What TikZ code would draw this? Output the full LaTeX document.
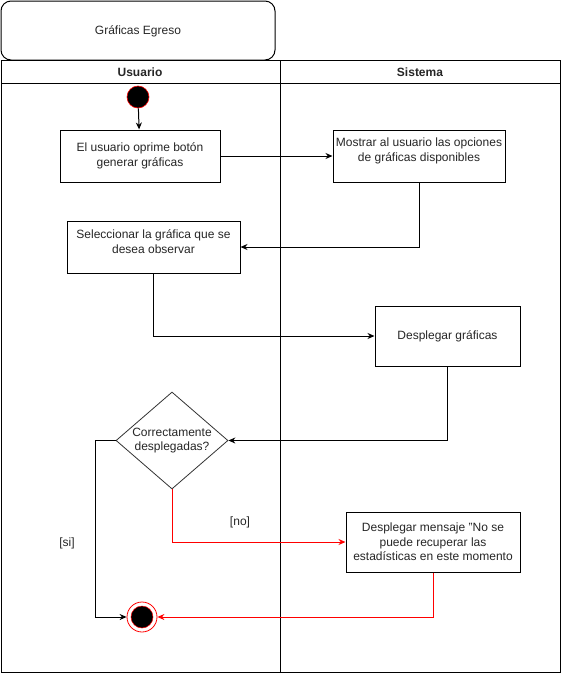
\documentclass[tikz,border=0pt]{standalone}
\usepackage{fontspec}
\setmainfont{Liberation Sans}
\usetikzlibrary{arrows.meta,shapes.geometric}
\begin{document}
\begin{tikzpicture}[x=1pt,y=-1pt,
  every node/.style={font=\fontsize{12}{14.5}\selectfont, text=black!85},
  box/.style={draw=black, line width=1pt, fill=white, minimum width=#1, inner sep=0pt},
  flow/.style={line width=1pt, -{Stealth[length=7pt,width=6pt]}},
  noflow/.style={flow, draw=red, -{Stealth[length=7pt,width=6pt,red]}},
  hdr/.style={font=\fontsize{12}{14}\selectfont\bfseries},
  guard/.style={font=\fontsize{12}{14}\selectfont}
]
\useasboundingbox (0,0) rectangle (561,673);

% title tab
\draw[line width=1pt, rounded corners=10pt] (1,1) rectangle (275,60);
\node (title) at (138,31) {Gráficas Egreso};

% pool with two lanes
\draw[line width=1pt] (1,60) rectangle (560,672);
\draw[line width=1pt] (1,83) -- (560,83);
\draw[line width=1pt] (280,60) -- (280,672);
\node[hdr] (laneU) at (140,72) {Usuario};
\node[hdr] (laneS) at (420,72) {Sistema};

% start
\node[circle, fill=black, draw=red, line width=0.6pt, minimum size=22pt, inner sep=0pt] (start) at (138,97) {};

% activities
\node[box=160, minimum height=52, align=center] (b1) at (140,156)
  {El usuario oprime botón\\generar gráficas};
\node[box=172, minimum height=52,
  label={[anchor=north, align=center, yshift=-5pt]north:Mostrar al usuario las opciones\\de gráficas disponibles}] (b2) at (419,156) {};
\node[box=173, minimum height=52,
  label={[anchor=north, align=center, yshift=-6pt]north:Seleccionar la gráfica que se\\desea observar}] (b3) at (153.5,247) {};
\node[box=145, minimum height=60] (b4) at (447.5,336) {Desplegar gráficas};
\node[diamond, draw=black!80, line width=0.8pt, fill=white, minimum width=112, minimum height=97, inner sep=0pt,
  label={[align=center]center:Correctamente\\desplegadas?}] (dec) at (172,440.5) {};
\node[box=174, minimum height=60, align=center] (b5) at (433,542)
  {Desplegar mensaje "No se\\puede recuperar las\\estadísticas en este momento};

% end
\node[circle, draw=red, fill=white, line width=0.8pt, minimum size=30pt, inner sep=0pt] (end) at (142,617) {};
\fill[black] (end) circle (11pt);
\draw[red, line width=0.5pt] (end) circle (11pt);

% flows
\draw[flow] (start) -- (b1);
\draw[flow] (b1) -- (b2);
\draw[flow] (b2.south) |- (b3.east);
\draw[flow] (b3.south) |- (b4.west);
\draw[flow] (b4.south) |- (dec.east);
\coordinate (siBend) at (95,440.5);
\draw[flow] (dec.west) -- (siBend) |- (end.west);
\draw[noflow] (dec.south) |- (b5.west);
\draw[noflow] (b5.south) |- (end.east);

% guards
\node[guard] (gsi) at (67,543) {[si]};
\node[guard] (gno) at (240,522) {[no]};
\end{tikzpicture}
\end{document}
